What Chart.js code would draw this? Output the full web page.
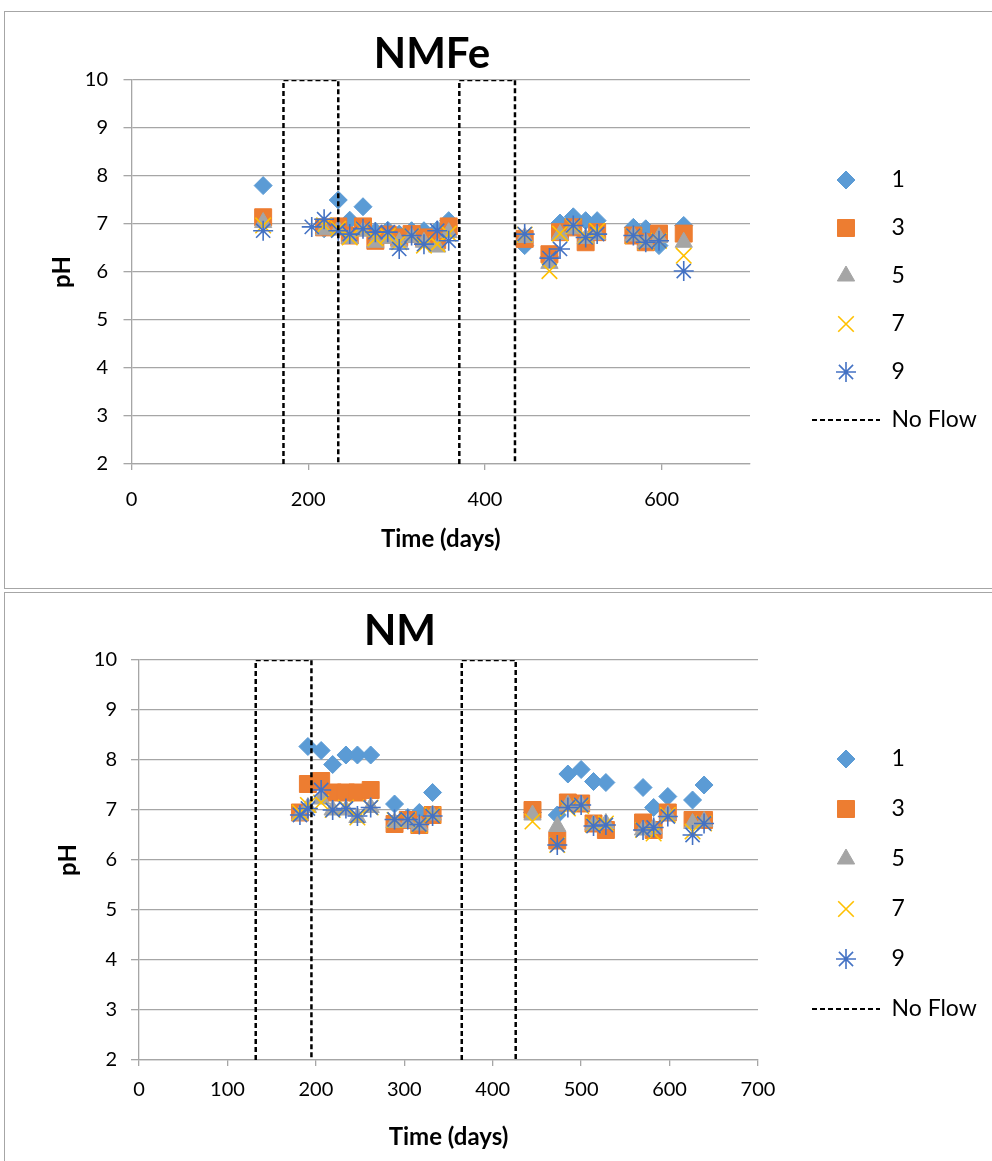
<!DOCTYPE html>
<html>
<head>
<meta charset="utf-8">
<title>pH over time</title>
<script src="https://cdn.jsdelivr.net/npm/chart.js@4.4.1/dist/chart.umd.min.js"></script>
<style>
  html, body { margin: 0; padding: 0; background: #fff; overflow: hidden; }
  .panel { position: absolute; left: 4px; width: 1000px; border: 1px solid #a6a6a6; background: #fff; }
  #panelTop { top: 11px; height: 576px; }
  #panelBottom { top: 592px; height: 582px; }
  canvas { display: block; }
</style>
</head>
<body>
<div class="panel" id="panelTop"><canvas id="nmfeChart" width="1000" height="576"></canvas></div>
<div class="panel" id="panelBottom"><canvas id="nmChart" width="1000" height="582"></canvas></div>
<script>
// sampling ports shown in the legend
const portLabels = ["1", "3", "5", "7", "9"];
const noFlowLabel = "No Flow";
const yTicks = [2, 3, 4, 5, 6, 7, 8, 9, 10];

// NMFe column
const nmfeDays = [149, 204, 218, 234, 247, 262, 276, 290, 303, 317, 331, 346, 359, 445, 473, 485, 500, 514, 527, 568, 582, 597, 625];
const nmfePort1 = [7.8, null, 6.9, 7.5, 7.08, 7.36, 6.85, 6.87, 6.79, 6.86, 6.86, 6.88, 7.07, 6.55, 6.32, 7.02, 7.15, 7.07, 7.07, 6.93, 6.9, 6.55, 6.97];
const nmfePort3 = [7.14, null, 6.93, 6.95, 6.76, 6.95, 6.65, 6.78, 6.72, 6.79, 6.72, 6.66, 6.95, 6.69, 6.37, 6.83, 6.93, 6.62, 6.83, 6.76, 6.62, 6.8, 6.8];
const nmfePort5 = [7.03, null, 6.88, 6.88, 6.7, 6.85, 6.62, 6.7, 6.62, 6.72, 6.62, 6.52, 6.82, 6.72, 6.18, 6.78, 6.9, 6.7, 6.78, 6.75, 6.62, 6.72, 6.62];
const nmfePort7 = [6.97, null, 6.97, 6.9, 6.72, 6.88, 6.7, 6.75, 6.62, 6.75, 6.55, 6.58, 6.8, 6.78, 6.02, 6.8, 6.95, 6.75, 6.86, 6.75, 6.62, 6.65, 6.34];
const nmfePort9 = [6.86, 6.94, 7.1, 6.86, 6.79, 6.9, 6.83, 6.83, 6.48, 6.76, 6.58, 6.86, 6.65, 6.79, 6.29, 6.48, 6.97, 6.72, 6.79, 6.76, 6.62, 6.65, 6.02];
const nmfeNoFlow = [[172, 234], [371, 434]];
const nmfeXTicks = [0, 200, 400, 600];

// NM column
const nmDays = [182, 191, 206, 219, 234, 247, 262, 289, 304, 317, 332, 445, 473, 485, 500, 514, 528, 570, 582, 598, 626, 639];
const nmPort1 = [null, 8.27, 8.19, 7.91, 8.1, 8.1, 8.1, 7.12, 6.85, 6.95, 7.35, 6.95, 6.9, 7.72, 7.81, 7.57, 7.55, 7.45, 7.05, 7.27, 7.2, 7.5];
const nmPort3 = [6.95, 7.52, 7.58, 7.35, 7.35, 7.35, 7.4, 6.72, 6.8, 6.7, 6.9, 7.0, 6.39, 7.15, 7.13, 6.73, 6.6, 6.75, 6.6, 6.95, 6.8, 6.8];
const nmPort5 = [6.9, 7.05, 7.22, 7.0, 7.0, 6.85, 7.05, 6.75, 6.75, 6.7, 6.9, 6.9, 6.67, 7.1, 7.1, 6.7, 6.73, 6.6, 6.63, 6.9, 6.73, 6.77];
const nmPort7 = [6.95, 7.1, 7.15, 7.0, 7.05, 6.85, 7.05, 6.8, 6.8, 6.7, 6.9, 6.77, 6.3, 7.03, 7.08, 6.7, 6.73, 6.6, 6.53, 6.9, 6.57, 6.73];
const nmPort9 = [6.9, 7.03, 7.4, 7.0, 7.03, 6.88, 7.05, 6.81, 6.81, 6.71, 6.88, null, 6.3, 7.05, 7.1, 6.68, 6.7, 6.6, 6.65, 6.87, 6.5, 6.73];
const nmNoFlow = [[132, 195], [365, 426]];
const nmXTicks = [0, 100, 200, 300, 400, 500, 600, 700];

// marker look per port, same order as portLabels
const markers = [
  { pointStyle: "rectRot", radius: 9, fill: "#5B9BD5", stroke: "#5B9BD5", width: 1 },
  { pointStyle: "rect", radius: 12, fill: "#ED7D31", stroke: "#ED7D31", width: 1 },
  { pointStyle: "triangle", radius: 10, fill: "#A5A5A5", stroke: "#A5A5A5", width: 1 },
  { pointStyle: "crossRot", radius: 11, fill: "rgba(0,0,0,0)", stroke: "#FFC000", width: 1.6 },
  { pointStyle: "star", radius: 10, fill: "rgba(0,0,0,0)", stroke: "#4472C4", width: 1.6 }
];

const gridColor = "#a6a6a6";
const fontFamily = "Lato";
const LEGEND_BOX = 68;
const LEGEND_FONT = 23;
const AXIS_TITLE_FONT = 24;

// small canvases used as legend symbols (marker centred in a wide box, or a dashed line)
function legendIcon(paint) {
  const c = document.createElement("canvas");
  c.width = LEGEND_BOX;
  c.height = 26;
  paint(c.getContext("2d"), c.width / 2, c.height / 2);
  return c;
}

function markerIcon(m) {
  return legendIcon((g, cx, cy) => {
    g.fillStyle = m.fill;
    g.strokeStyle = m.stroke;
    g.lineWidth = m.width;
    Chart.helpers.drawPoint(g, { pointStyle: m.pointStyle, radius: m.radius, borderWidth: m.width, rotation: 0 }, cx, cy);
  });
}

const dashIcon = legendIcon((g, cx, cy) => {
  g.strokeStyle = "#000";
  g.lineWidth = 2;
  g.setLineDash([5, 3]);
  g.beginPath();
  g.moveTo(0, cy);
  g.lineTo(LEGEND_BOX, cy);
  g.stroke();
});

function portDataset(i, days, values) {
  const m = markers[i];
  return {
    label: portLabels[i],
    order: markers.length - i,
    data: days.map((d, k) => ({ x: d, y: values[k] })).filter(p => p.y !== null),
    showLine: false,
    pointStyle: m.pointStyle,
    pointRadius: m.radius,
    pointHoverRadius: m.radius,
    backgroundColor: m.fill,
    borderColor: m.stroke,
    pointBorderWidth: m.width,
    legendIcon: markerIcon(m)
  };
}

// one rectangle per no-flow period, from the bottom of the axis to the top
function noFlowDataset(period, first) {
  const lo = yTicks[0], hi = yTicks[yTicks.length - 1];
  return {
    label: noFlowLabel,
    order: 0,
    data: [{ x: period[0], y: lo }, { x: period[0], y: hi }, { x: period[1], y: hi }, { x: period[1], y: lo }],
    showLine: true,
    borderColor: "#000",
    borderWidth: 2.5,
    borderDash: [5, 3],
    pointRadius: 0,
    pointHoverRadius: 0,
    fill: false,
    inLegend: first,
    legendIcon: dashIcon
  };
}

const titlePlugin = {
  id: "panelTitle",
  afterDraw(chart, args, opts) {
    const ctx = chart.ctx;
    ctx.save();
    ctx.font = "bold 42px " + fontFamily;
    ctx.fillStyle = "#000";
    ctx.textAlign = "center";
    ctx.textBaseline = "middle";
    ctx.fillText(opts.text, opts.x, opts.y);
    ctx.restore();
  }
};

function makeChart(id, cfg) {
  const canvas = document.getElementById(id);
  const datasets = cfg.series.map((vals, i) => portDataset(i, cfg.days, vals))
    .concat(cfg.noFlow.map((p, k) => noFlowDataset(p, k === 0)));
  const hiddenScale = {
    type: "linear",
    display: true,
    grid: { display: false, drawTicks: false },
    border: { display: false },
    ticks: { display: false }
  };

  const chart = new Chart(canvas.getContext("2d"), {
    type: "scatter",
    data: { datasets },
    plugins: [titlePlugin],
    options: {
      responsive: false,
      animation: false,
      events: [],
      layout: { padding: { top: 0, left: 0, right: 0, bottom: 0 } },
      plugins: {
        tooltip: { enabled: false },
        title: { display: false },
        panelTitle: cfg.title,
        legend: {
          position: "right",
          maxWidth: 1000,
          labels: {
            usePointStyle: true,
            pointStyleWidth: LEGEND_BOX,
            boxHeight: LEGEND_FONT,
            padding: cfg.legendGap,
            color: "#000",
            font: { family: fontFamily, size: LEGEND_FONT },
            filter: (item, data) => data.datasets[item.datasetIndex].inLegend !== false,
            sort: (a, b) => a.datasetIndex - b.datasetIndex,
            generateLabels: ch => Chart.defaults.plugins.legend.labels.generateLabels(ch).map(item => {
              item.pointStyle = ch.data.datasets[item.datasetIndex].legendIcon;
              return item;
            })
          }
        }
      },
      scales: {
        x: {
          type: "linear",
          min: 0,
          max: 700,
          afterBuildTicks: s => { s.ticks = cfg.xTicks.map(v => ({ value: v })); },
          afterFit: s => { s.height = canvas.height - cfg.areaBottom; },
          grid: { drawOnChartArea: false, drawTicks: true, tickLength: 6, color: gridColor, lineWidth: 1.3 },
          border: { display: true, color: gridColor, width: 1.3 },
          ticks: { color: "#000", padding: cfg.xTickPad, maxRotation: 0, font: { family: fontFamily, size: 20 } },
          title: { display: true, text: "Time (days)", color: "#000", font: { family: fontFamily, size: AXIS_TITLE_FONT, weight: "bold" }, padding: { top: 0, bottom: cfg.xTitlePad } }
        },
        y: {
          type: "linear",
          min: yTicks[0],
          max: yTicks[yTicks.length - 1],
          afterBuildTicks: s => { s.ticks = yTicks.map(v => ({ value: v })); },
          afterFit: s => { s.width = cfg.areaLeft; },
          grid: { color: gridColor, lineWidth: 1.3, tickLength: 8 },
          border: { display: true, color: gridColor, width: 1.3 },
          ticks: { color: "#000", padding: cfg.yTickPad, font: { family: fontFamily, size: 20 } },
          title: { display: true, text: "pH", color: "#000", font: { family: fontFamily, size: AXIS_TITLE_FONT, weight: "bold" }, padding: { top: cfg.yTitlePad, bottom: 0 } }
        },
        // empty band above the plot, room for the title
        headroom: Object.assign({}, hiddenScale, {
          position: "top",
          afterFit: s => { s.height = cfg.areaTop; }
        }),
        // empty spacer between the plot and the legend
        gap: Object.assign({}, hiddenScale, {
          position: "right",
          afterFit: s => { s.width = cfg.legendLeft - cfg.legendGap - cfg.areaRight; }
        })
      }
    }
  });

  // push the legend so that its first symbol starts at legendLeft
  chart.options.layout.padding.right = canvas.width - (cfg.legendLeft - cfg.legendGap) - chart.legend.width;
  chart.update();
  return chart;
}

makeChart("nmfeChart", {
  days: nmfeDays,
  series: [nmfePort1, nmfePort3, nmfePort5, nmfePort7, nmfePort9],
  noFlow: nmfeNoFlow,
  xTicks: nmfeXTicks,
  title: { text: "NMFe", x: 427, y: 42 },
  areaLeft: 126.5, areaRight: 745, areaTop: 68, areaBottom: 452,
  legendLeft: 807, legendGap: 25,
  yTickPad: 15.5, yTitlePad: 42.6, xTickPad: 18, xTitlePad: 34.6
});

makeChart("nmChart", {
  days: nmDays,
  series: [nmPort1, nmPort3, nmPort5, nmPort7, nmPort9],
  noFlow: nmNoFlow,
  xTicks: nmXTicks,
  title: { text: "NM", x: 395, y: 38 },
  areaLeft: 134, areaRight: 753, areaTop: 67, areaBottom: 467,
  legendLeft: 807, legendGap: 27,
  yTickPad: 14, yTitlePad: 48.6, xTickPad: 12, xTitlePad: 23.6
});
</script>
</body>
</html>
